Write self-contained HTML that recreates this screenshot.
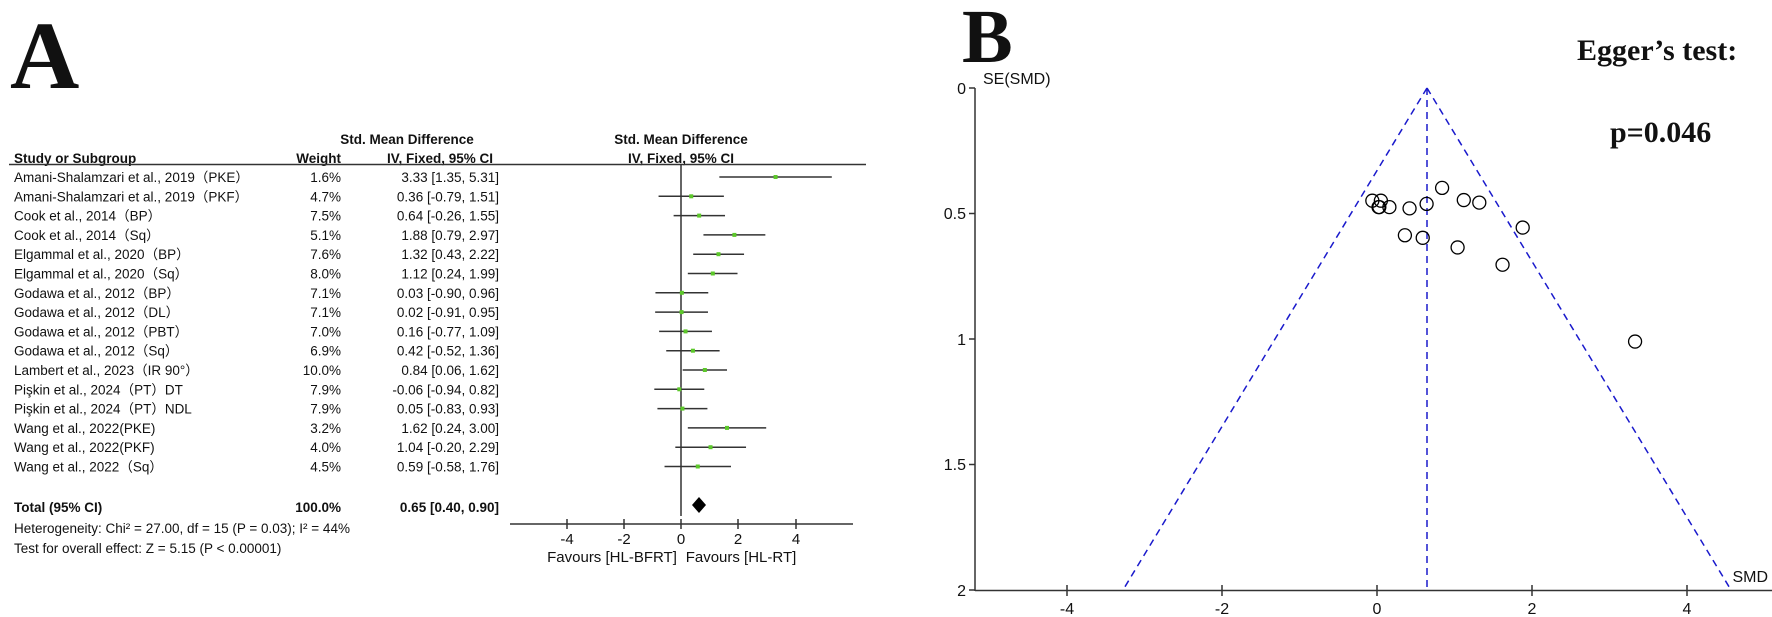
<!DOCTYPE html>
<html><head><meta charset="utf-8"><style>
body{margin:0;background:#fff}
svg{display:block}
text{font-family:"Liberation Sans",Arial,sans-serif;fill:#111}
</style></head><body>
<svg width="1772" height="617" viewBox="0 0 1772 617" xmlns="http://www.w3.org/2000/svg">
<!-- Panel A -->
<text x="10" y="88" style="font-family:'Liberation Serif',serif;font-weight:bold;font-size:96px">A</text>
<g font-size="13.5">
<text x="407" y="144" text-anchor="middle" font-weight="bold">Std. Mean Difference</text>
<text x="681" y="144" text-anchor="middle" font-weight="bold">Std. Mean Difference</text>
<text x="14" y="163" font-weight="bold">Study or Subgroup</text>
<text x="341" y="163" text-anchor="end" font-weight="bold">Weight</text>
<text x="440" y="163" text-anchor="middle" font-weight="bold">IV, Fixed, 95% CI</text>
<text x="681" y="163" text-anchor="middle" font-weight="bold">IV, Fixed, 95% CI</text>
</g>
<line x1="9" y1="164.5" x2="866" y2="164.5" stroke="#333" stroke-width="1.5"/>
<line x1="681" y1="164" x2="681" y2="516" stroke="#333" stroke-width="1.5"/>
<g id="rows" font-size="13.5"></g>
<g font-size="13.5">
<text x="14" y="512" font-weight="bold">Total (95% CI)</text>
<text x="341" y="512" text-anchor="end" font-weight="bold">100.0%</text>
<text x="499" y="512" text-anchor="end" font-weight="bold">0.65 [0.40, 0.90]</text>
<text x="14" y="533">Heterogeneity: Chi² = 27.00, df = 15 (P = 0.03); I² = 44%</text>
<text x="14" y="553">Test for overall effect: Z = 5.15 (P &lt; 0.00001)</text>
</g>
<polygon points="692,505 699,497 706,505 699,513" fill="#000"/>
<line x1="510" y1="524" x2="853" y2="524" stroke="#333" stroke-width="1.5"/>
<g stroke="#333" stroke-width="1.5">
<line x1="567" y1="519" x2="567" y2="529"/><line x1="624" y1="519" x2="624" y2="529"/>
<line x1="681" y1="519" x2="681" y2="529"/><line x1="738" y1="519" x2="738" y2="529"/>
<line x1="796" y1="519" x2="796" y2="529"/>
</g>
<g font-size="15" text-anchor="middle">
<text x="567" y="544">-4</text><text x="624" y="544">-2</text><text x="681" y="544">0</text>
<text x="738" y="544">2</text><text x="796" y="544">4</text>
<text x="612" y="562">Favours [HL-BFRT]</text><text x="741" y="562">Favours [HL-RT]</text>
</g>

<!-- Panel B -->
<text x="962" y="62" style="font-family:'Liberation Serif',serif;font-weight:bold;font-size:76px">B</text>
<text x="983" y="84" font-size="16">SE(SMD)</text>
<text x="1577" y="60" style="font-family:'Liberation Serif',serif;font-weight:bold;font-size:30px">Egger’s test:</text>
<text x="1610" y="142" style="font-family:'Liberation Serif',serif;font-weight:bold;font-size:30px">p=0.046</text>
<line x1="975" y1="88" x2="975" y2="591" stroke="#333" stroke-width="1.5"/>
<line x1="975" y1="590.5" x2="1772" y2="590.5" stroke="#333" stroke-width="1.5"/>
<g stroke="#333" stroke-width="1.5">
<line x1="969" y1="88" x2="975" y2="88"/><line x1="969" y1="213.5" x2="975" y2="213.5"/>
<line x1="969" y1="339" x2="975" y2="339"/><line x1="969" y1="464.5" x2="975" y2="464.5"/>
<line x1="969" y1="590" x2="975" y2="590"/>
<line x1="1067" y1="585" x2="1067" y2="596"/><line x1="1222" y1="585" x2="1222" y2="596"/>
<line x1="1377" y1="585" x2="1377" y2="596"/><line x1="1532" y1="585" x2="1532" y2="596"/>
<line x1="1687" y1="585" x2="1687" y2="596"/>
</g>
<g font-size="16" text-anchor="end">
<text x="966" y="94">0</text><text x="966" y="219">0.5</text><text x="966" y="345">1</text>
<text x="966" y="470">1.5</text><text x="966" y="596">2</text>
</g>
<g font-size="16" text-anchor="middle">
<text x="1067" y="614">-4</text><text x="1222" y="614">-2</text><text x="1377" y="614">0</text>
<text x="1532" y="614">2</text><text x="1687" y="614">4</text>
</g>
<text x="1768" y="582" font-size="16" text-anchor="end">SMD</text>
<g stroke="#1a1acc" stroke-width="1.5" stroke-dasharray="7,5" fill="none">
<line x1="1427" y1="88" x2="1123" y2="590"/>
<line x1="1427" y1="88" x2="1731" y2="590"/>
<line x1="1427" y1="88" x2="1427" y2="590"/>
</g>
<g id="pts" fill="none" stroke="#000" stroke-width="1.3"></g>
<script>
var d=[["Amani-Shalamzari et al., 2019（PKE）","1.6%",3.33,1.35,5.31],
["Amani-Shalamzari et al., 2019（PKF）","4.7%",0.36,-0.79,1.51],
["Cook et al., 2014（BP）","7.5%",0.64,-0.26,1.55],
["Cook et al., 2014（Sq）","5.1%",1.88,0.79,2.97],
["Elgammal et al., 2020（BP）","7.6%",1.32,0.43,2.22],
["Elgammal et al., 2020（Sq）","8.0%",1.12,0.24,1.99],
["Godawa et al., 2012（BP）","7.1%",0.03,-0.90,0.96],
["Godawa et al., 2012（DL）","7.1%",0.02,-0.91,0.95],
["Godawa et al., 2012（PBT）","7.0%",0.16,-0.77,1.09],
["Godawa et al., 2012（Sq）","6.9%",0.42,-0.52,1.36],
["Lambert et al., 2023（IR 90°）","10.0%",0.84,0.06,1.62],
["Pişkin et al., 2024（PT）DT","7.9%",-0.06,-0.94,0.82],
["Pişkin et al., 2024（PT）NDL","7.9%",0.05,-0.83,0.93],
["Wang et al., 2022(PKE)","3.2%",1.62,0.24,3.00],
["Wang et al., 2022(PKF)","4.0%",1.04,-0.20,2.29],
["Wang et al., 2022（Sq）","4.5%",0.59,-0.58,1.76]];
var ns="http://www.w3.org/2000/svg",g=document.getElementById("rows"),p=document.getElementById("pts");
function el(t,a,par,txt){var e=document.createElementNS(ns,t);for(var k in a)e.setAttribute(k,a[k]);if(txt)e.textContent=txt;par.appendChild(e);return e;}
function f(v){return (v<0?"-":"")+Math.abs(v).toFixed(2);}
d.forEach(function(r,i){var y=177+19.3*i;
el("text",{x:14,y:y+5,style:"font-family:'Liberation Sans','Noto Sans CJK SC',sans-serif"},g,r[0]);
el("text",{x:341,y:y+5,"text-anchor":"end"},g,r[1]);
el("text",{x:499,y:y+5,"text-anchor":"end"},g,f(r[2])+" ["+f(r[3])+", "+f(r[4])+"]");
var X=function(v){return Math.min(681+28.4*v,853);};
el("line",{x1:X(r[3]),y1:y,x2:X(r[4]),y2:y,stroke:"#333","stroke-width":1.5},g);
el("rect",{x:X(r[2])-2,y:y-2,width:4,height:4,fill:"#5cc82a"},g);
var se=(r[4]-r[3])/3.92;
el("circle",{cx:1377+77.5*r[2],cy:88+251*se,r:6.5},p);
});
</script>
</svg>
</body></html>
